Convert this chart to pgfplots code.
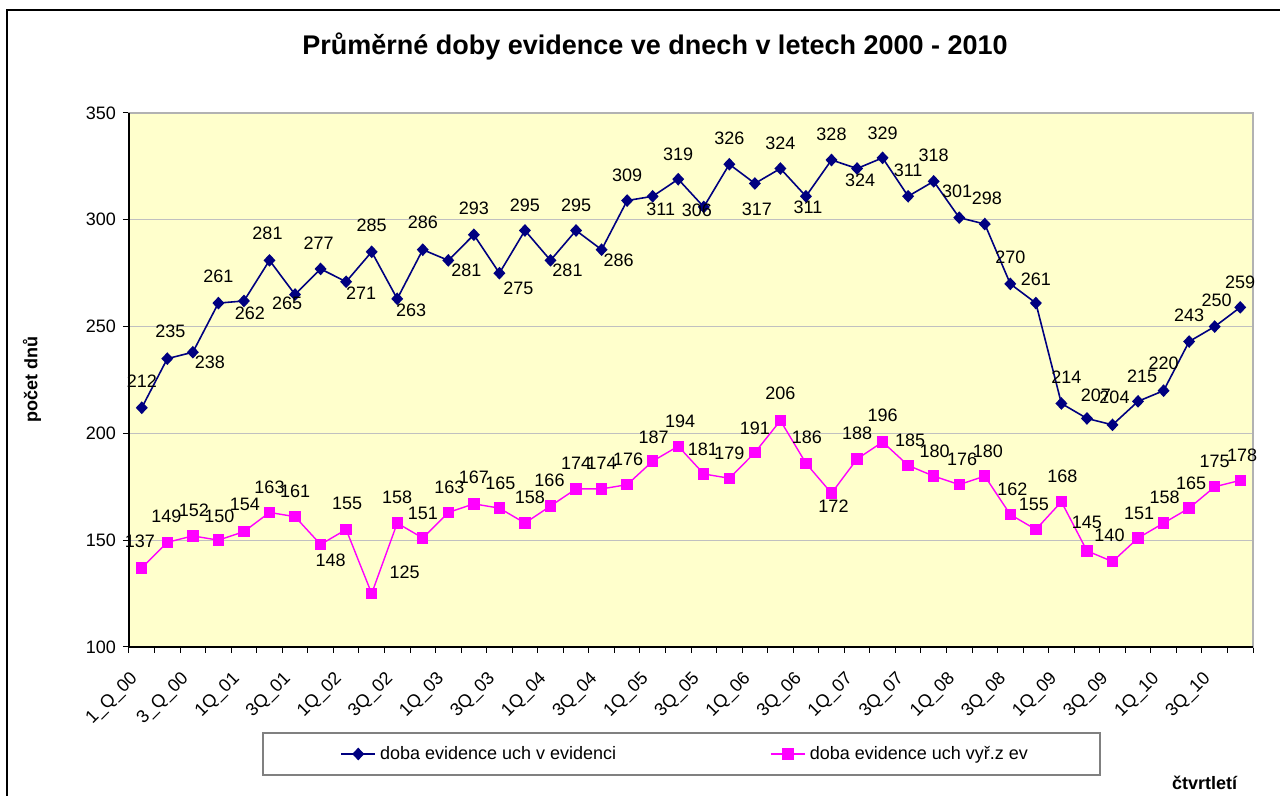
\documentclass[border=0pt]{standalone}
\usepackage{fontspec}
\setmainfont{Liberation Sans}
\usepackage{pgfplots}
\usepackage{pgfplotstable}
\pgfplotsset{compat=1.18}
\definecolor{navyb}{HTML}{000080}
\definecolor{magp}{HTML}{FF00FF}
\definecolor{bgy}{HTML}{FFFFCC}
\definecolor{gridg}{HTML}{C0C0C0}

\pgfplotstableread{
x y dx dy
0 212 0 13.5
1 235 1.5 13.5
2 238 8.5 -5
3 261 0 13.5
4 262 3 -6
5 281 -1 13.5
6 265 -4 -4.5
7 277 -1 13
8 271 7.5 -5.5
9 285 0 13.5
10 263 7 -5.5
11 286 0 13.5
12 281 9 -5
13 293 0 13
14 275 9.5 -7.5
15 295 0 12.5
16 281 8.5 -5
17 295 0 12.5
18 286 8.5 -5.5
19 309 0 12.5
20 311 4 -6.5
21 319 0 12.5
22 306 -3.5 -1.5
23 326 0 13
24 317 1 -13
25 324 0 12.5
26 311 1 -5.5
27 328 0 13
28 324 1.5 -6
29 329 0 12.5
30 311 0 13
31 318 0 13
32 301 -1 13
33 298 1 13
34 270 0 13.5
35 261 0 12
36 214 2.5 13
37 207 4.5 11.5
38 204 1 14
39 215 2 12.5
40 220 0 13.5
41 243 0 13
42 250 1 13
43 259 0 12.5
}\blueT

\pgfplotstableread{
x y dx dy
0 137 -1 13.5
1 149 -0.5 13
2 152 0.5 13
3 150 0.5 12
4 154 0.5 13.5
5 163 0 12.5
6 161 0 12.5
7 148 5 -8
8 155 0.5 13
9 125 16.5 10.5
10 158 0 13
11 151 0 12.5
12 163 0.5 12.5
13 167 0 13.5
14 165 0.5 12.5
15 158 2.5 13
16 166 -0.5 13
17 174 0 13
18 174 0 13
19 176 0.5 12.5
20 187 0.5 12
21 194 1 12.5
22 181 -0.5 12.5
23 179 0 12.5
24 191 0 12
25 206 0 13.5
26 186 0.5 13
27 172 1 -6.5
28 188 0 13
29 196 0 13.5
30 185 1 12.5
31 180 0.5 12.5
32 176 1.5 12.5
33 180 1.5 12.5
34 162 1 12.5
35 155 -1 12.5
36 168 0.5 12.5
37 145 0 14
38 140 -1.5 13
39 151 0.5 12.5
40 158 0.5 13
41 165 1 12.5
42 175 0 12.5
43 178 1 12.5
}\pinkT

\begin{document}
\begin{tikzpicture}
\path[use as bounding box] (0,0) rectangle (640pt,398pt);
\draw[line width=1pt] (3.5pt,-1pt) -- (3.5pt,393pt) -- (641pt,393pt);
\draw[gray, line width=0.6pt] (131.5pt,10.5pt) rectangle (550pt,31.5pt);
\begin{axis}[
  at={(64.5pt,74.5pt)}, anchor=south west,
  scale only axis, width=562pt, height=267pt,
  xmin=-0.5, xmax=43.5, ymin=100, ymax=350,
  ytick={100,150,...,350},
  xtick={0,2,...,42},
  xticklabels={1\_Q\_00,3\_Q\_00,1Q\_01,3Q\_01,1Q\_02,3Q\_02,1Q\_03,3Q\_03,1Q\_04,3Q\_04,1Q\_05,3Q\_05,1Q\_06,3Q\_06,1Q\_07,3Q\_07,1Q\_08,3Q\_08,1Q\_09,3Q\_09,1Q\_10,3Q\_10},
  minor xtick={-0.5,0.5,...,43.5},
  major x tick style={draw=none},
  tick align=outside,
  major tick length=3pt, minor tick length=3pt,
  tick style={black, line width=0.5pt},
  xtick pos=bottom, ytick pos=left,
  ymajorgrids=true,
  grid style={gridg, line width=0.6pt},
  axis background/.style={fill=bgy},
  axis line style={gray!60, line width=0.8pt},
  /pgf/number format/assume math mode=true,
  tick label style={font=\fontsize{9}{10}\selectfont},
  xticklabel style={rotate=45, anchor=north east, inner sep=1pt, xshift=-9.5pt, yshift=-0.5pt},
  title={Průměrné doby evidence ve dnech v letech 2000 - 2010},
  title style={at={(axis description cs:0.468,1.1027)}, anchor=center, font=\fontsize{13.5}{15}\selectfont\bfseries},
  ylabel={počet dnů},
  ylabel style={at={(axis description cs:-0.0863,0.5)}, anchor=center, font=\fontsize{9}{10}\selectfont\bfseries},
  xlabel={čtvrtletí},
  xlabel style={at={(axis description cs:0.957,-0.2547)}, anchor=center, font=\fontsize{9}{10}\selectfont\bfseries},
  legend columns=2,
  legend style={at={(axis description cs:0.1877,-0.2004)}, anchor=west,
    draw=none, fill=none, font=\fontsize{9}{10}\selectfont,
    inner xsep=0pt, inner ysep=0pt,
    /tikz/every even column/.append style={column sep=75pt}},
  legend cell align=left,
  after end axis/.code={
    \draw[black, line width=0.6pt] (rel axis cs:0,1) -- (rel axis cs:0,0) -- (rel axis cs:1,0);
  },
]
\addplot[navyb, line width=0.8pt, mark=diamond*, mark size=2.6pt, mark options={fill=navyb, draw=navyb, xscale=1.25},
  nodes near coords, point meta=explicit symbolic,
  visualization depends on={\thisrow{dx}\as\dx},
  visualization depends on={\thisrow{dy}\as\dy},
  every node near coord/.append style={font=\fontsize{9}{10}\selectfont, text=black, anchor=center, xshift=\dx pt, yshift=\dy pt}]
  table[x=x, y=y, meta=y] {\blueT};
\addlegendentry{doba evidence uch v evidenci}
\addplot[magp, line width=0.7pt, mark=square*, mark size=2.5pt, mark options={fill=magp, draw=magp},
  nodes near coords, point meta=explicit symbolic,
  visualization depends on={\thisrow{dx}\as\dx},
  visualization depends on={\thisrow{dy}\as\dy},
  every node near coord/.append style={font=\fontsize{9}{10}\selectfont, text=black, anchor=center, xshift=\dx pt, yshift=\dy pt}]
  table[x=x, y=y, meta=y] {\pinkT};
\addlegendentry{doba evidence uch vyř.z ev}
\end{axis}
\end{tikzpicture}
\end{document}
